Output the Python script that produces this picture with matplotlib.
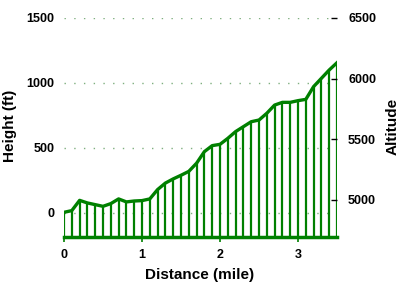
import matplotlib.pyplot as plt
import numpy as np

plt.rcParams['font.family'] = ['Liberation Sans', 'DejaVu Sans']
plt.rcParams['font.weight'] = 'bold'

distance = np.round(np.arange(0, 3.51, 0.1), 1)
height = [5, 18, 97, 77, 64, 51, 72, 108, 85, 92,
          95, 108, 180, 230, 262, 290, 320, 383, 472, 518,
          528, 574, 626, 664, 702, 715, 767, 830, 851, 851,
          864, 874, 972, 1036, 1100, 1156]
left_ticks = [0, 500, 1000, 1500]
right_ticks = [5000, 5500, 6000, 6500]
x_ticks = [0, 1, 2, 3]

green = '#008000'
fig = plt.figure(figsize=(4, 2.86), dpi=100)
ax = fig.add_axes([0.16, 1 - 237 / 286, 0.6825, 219 / 286])

ymin = -185
ax.vlines(distance, ymin, height, color=green, lw=1.6, zorder=3)
ax.plot(distance, height, color=green, lw=2.4, solid_joinstyle='round', zorder=4)
ax.set_xlim(0, 3.5)
ax.set_ylim(ymin, 1500)
ax.set_yticks(left_ticks)
ax.set_xticks(x_ticks)
ax.grid(axis='y', color='#7faf7f', linestyle=(0, (1, 6)), lw=1, zorder=1)

for s in ['top', 'left', 'right']:
    ax.spines[s].set_visible(False)
ax.spines['bottom'].set_color(green)
ax.spines['bottom'].set_linewidth(2.5)
ax.spines['bottom'].set_zorder(5)
ax.tick_params(axis='y', length=0, pad=7, labelsize=9)
ax.tick_params(axis='x', length=3.5, color=green, width=1.2, pad=5, labelsize=9)

ax2 = ax.twinx()
ax2.set_ylim(4695, 6500)
ax2.set_yticks(right_ticks)
for s in ax2.spines.values():
    s.set_visible(False)
ax2.tick_params(axis='y', direction='in', length=4, width=1, pad=8, labelsize=9)

fig.text(0.5, 1 - 275 / 286, 'Distance (mile)', ha='center', va='center',
         fontsize=11, fontweight='bold')
fig.text(10 / 400, 1 - 126 / 286, 'Height (ft)', ha='center', va='center',
         rotation=90, fontsize=11, fontweight='bold')
fig.text(393 / 400, 1 - 126 / 286, 'Altitude', ha='center', va='center',
         rotation=90, fontsize=11, fontweight='bold')

fig.savefig('out.png', dpi=100)
